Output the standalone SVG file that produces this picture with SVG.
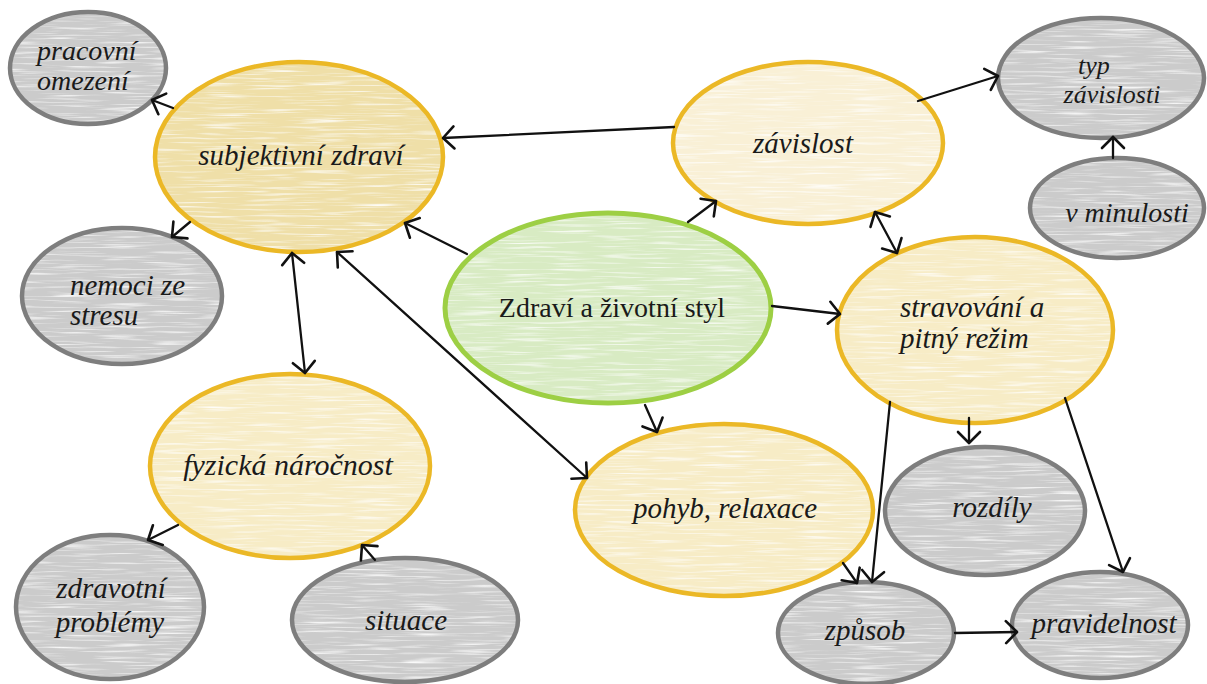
<svg xmlns="http://www.w3.org/2000/svg" width="1207" height="684" viewBox="0 0 1207 684">
  <defs>
    <!-- crayon-like horizontal streaks over the node fills -->
    <filter id="crayon" x="0" y="0" width="1" height="1" color-interpolation-filters="sRGB">
      <feTurbulence type="fractalNoise" baseFrequency="0.02 0.45" numOctaves="2" seed="7" result="noise"/>
      <feColorMatrix in="noise" type="matrix" values="0 0 0 0 1  0 0 0 0 1  0 0 0 0 1  2.4 0 0 0 -1.2" result="streaks"/>
      <feComposite in="streaks" in2="SourceGraphic" operator="in" result="clipped"/>
      <feMerge>
        <feMergeNode in="SourceGraphic"/>
        <feMergeNode in="clipped"/>
      </feMerge>
    </filter>
    <marker id="head" viewBox="0 0 30 30" refX="15" refY="15" markerWidth="30" markerHeight="30" markerUnits="userSpaceOnUse" orient="auto-start-reverse">
      <path d="M4,4 L15,15 L4,26" fill="none" stroke="#111" stroke-width="2.6" stroke-linecap="round" stroke-linejoin="round"/>
    </marker>
  </defs>
  <style>
    .fill { filter: url(#crayon); stroke: none; }
    .gray .fill { fill: #cbcbcb; }
    .yellow .fill { fill: #f7ecc6; }
    .green .fill { fill: #d8ebc3; }
    .edge { fill: none; stroke-width: 4.5; }
    .gray .edge { stroke: #7e7e7e; }
    .yellow .edge { stroke: #ebb826; }
    .green .edge { stroke: #9dcf44; stroke-width: 5; }
    text { font-family: 'Liberation Serif', 'Times New Roman', Times, Tinos, 'Noto Serif', 'DejaVu Serif', FreeSerif, serif; font-style: italic; font-size: 29px; fill: #1a1a1a; }
    .mid { text-anchor: middle; }
    .main { font-style: normal; font-size: 28px; }
    #connectors line { stroke: #111; stroke-width: 2.3; stroke-linecap: round; }
    .to { marker-end: url(#head); }
    .both { marker-start: url(#head); marker-end: url(#head); }
  </style>
  <rect width="1207" height="684" fill="#ffffff"/>

  <g id="pracovni-omezeni" class="gray">
    <ellipse class="fill" cx="88" cy="68" rx="78" ry="56"/>
    <ellipse class="edge" cx="88" cy="68" rx="78" ry="56"/>
    <text x="37" y="60" style="font-size:28px">pracovní</text>
    <text x="37" y="90" style="font-size:28px">omezení</text>
  </g>

  <g id="subjektivni-zdravi" class="yellow">
    <ellipse class="fill" cx="299" cy="157" rx="144" ry="95" style="fill:#efdfa8"/>
    <ellipse class="edge" cx="299" cy="157" rx="144" ry="95"/>
    <text class="mid" x="301" y="165">subjektivní zdraví</text>
  </g>

  <g id="nemoci-ze-stresu" class="gray">
    <ellipse class="fill" cx="122" cy="296" rx="100" ry="68"/>
    <ellipse class="edge" cx="122" cy="296" rx="100" ry="68"/>
    <text x="70" y="295">nemoci ze</text>
    <text x="70" y="325">stresu</text>
  </g>

  <g id="fyzicka-narocnost" class="yellow">
    <ellipse class="fill" cx="290" cy="466" rx="140" ry="92"/>
    <ellipse class="edge" cx="290" cy="466" rx="140" ry="92"/>
    <text class="mid" x="288" y="475" style="font-size:30px">fyzická náročnost</text>
  </g>

  <g id="zdravotni-problemy" class="gray">
    <ellipse class="fill" cx="110" cy="607" rx="94" ry="72"/>
    <ellipse class="edge" cx="110" cy="607" rx="94" ry="72"/>
    <text class="mid" x="111" y="598">zdravotní</text>
    <text class="mid" x="110" y="632">problémy</text>
  </g>

  <g id="situace" class="gray">
    <ellipse class="fill" cx="405" cy="620" rx="113" ry="62"/>
    <ellipse class="edge" cx="405" cy="620" rx="113" ry="62"/>
    <text class="mid" x="406" y="630">situace</text>
  </g>

  <g id="zdravi-a-zivotni-styl" class="green">
    <ellipse class="fill" cx="608" cy="308" rx="163" ry="95"/>
    <ellipse class="edge" cx="608" cy="308" rx="163" ry="95"/>
    <text class="mid main" x="612" y="317">Zdraví a životní styl</text>
  </g>

  <g id="zavislost" class="yellow">
    <ellipse class="fill" cx="808" cy="143" rx="135" ry="81" style="fill:#f9f0d6"/>
    <ellipse class="edge" cx="808" cy="143" rx="135" ry="81"/>
    <text class="mid" x="803" y="153">závislost</text>
  </g>

  <g id="typ-zavislosti" class="gray">
    <ellipse class="fill" cx="1101" cy="78" rx="103" ry="60"/>
    <ellipse class="edge" cx="1101" cy="78" rx="103" ry="60"/>
    <text class="mid" x="1094" y="74" style="font-size:26px">typ</text>
    <text class="mid" x="1112" y="103" style="font-size:26px">závislosti</text>
  </g>

  <g id="v-minulosti" class="gray">
    <ellipse class="fill" cx="1117" cy="208" rx="87" ry="50"/>
    <ellipse class="edge" cx="1117" cy="208" rx="87" ry="50"/>
    <text class="mid" x="1127" y="222" style="font-size:28px">v minulosti</text>
  </g>

  <g id="stravovani-a-pitny-rezim" class="yellow">
    <ellipse class="fill" cx="975" cy="330" rx="138" ry="93"/>
    <ellipse class="edge" cx="975" cy="330" rx="138" ry="93"/>
    <text x="900" y="317">stravování a</text>
    <text x="900" y="348">pitný režim</text>
  </g>

  <g id="pohyb-relaxace" class="yellow">
    <ellipse class="fill" cx="724" cy="510" rx="149" ry="86"/>
    <ellipse class="edge" cx="724" cy="510" rx="149" ry="86"/>
    <text class="mid" x="725" y="518">pohyb, relaxace</text>
  </g>

  <g id="rozdily" class="gray">
    <ellipse class="fill" cx="985" cy="511" rx="100" ry="64"/>
    <ellipse class="edge" cx="985" cy="511" rx="100" ry="64"/>
    <text class="mid" x="992" y="517">rozdíly</text>
  </g>

  <g id="zpusob" class="gray">
    <ellipse class="fill" cx="866" cy="633" rx="88" ry="51"/>
    <ellipse class="edge" cx="866" cy="633" rx="88" ry="51"/>
    <text class="mid" x="865" y="640">způsob</text>
  </g>

  <g id="pravidelnost" class="gray">
    <ellipse class="fill" cx="1100" cy="625" rx="88" ry="53"/>
    <ellipse class="edge" cx="1100" cy="625" rx="88" ry="53"/>
    <text class="mid" x="1104" y="633">pravidelnost</text>
  </g>

  <g id="connectors">
    <line class="to" x1="674" y1="127" x2="443" y2="138"/>
    <line class="to" x1="467" y1="254" x2="405" y2="223"/>
    <line class="to" x1="688" y1="222" x2="716" y2="201"/>
    <line class="to" x1="772" y1="306" x2="840" y2="314"/>
    <line class="to" x1="645" y1="405" x2="657" y2="432"/>
    <line class="both" x1="337" y1="252" x2="587" y2="478"/>
    <line class="both" x1="292" y1="253" x2="305" y2="373"/>
    <line class="to" x1="173" y1="108" x2="152" y2="100"/>
    <line class="to" x1="190" y1="222" x2="172" y2="237"/>
    <line class="to" x1="918" y1="101" x2="998" y2="76"/>
    <line class="to" x1="1113" y1="158" x2="1113" y2="137"/>
    <line class="both" x1="875" y1="212" x2="897" y2="253"/>
    <line class="to" x1="969" y1="418" x2="969" y2="443"/>
    <line class="to" x1="890" y1="402" x2="872" y2="582"/>
    <line class="to" x1="1065" y1="398" x2="1123" y2="572"/>
    <line class="to" x1="955" y1="633" x2="1017" y2="632"/>
    <line class="to" x1="843" y1="563" x2="857" y2="583"/>
    <line class="to" x1="178" y1="525" x2="148" y2="540"/>
    <line class="to" x1="375" y1="560" x2="362" y2="545"/>
  </g>
</svg>
